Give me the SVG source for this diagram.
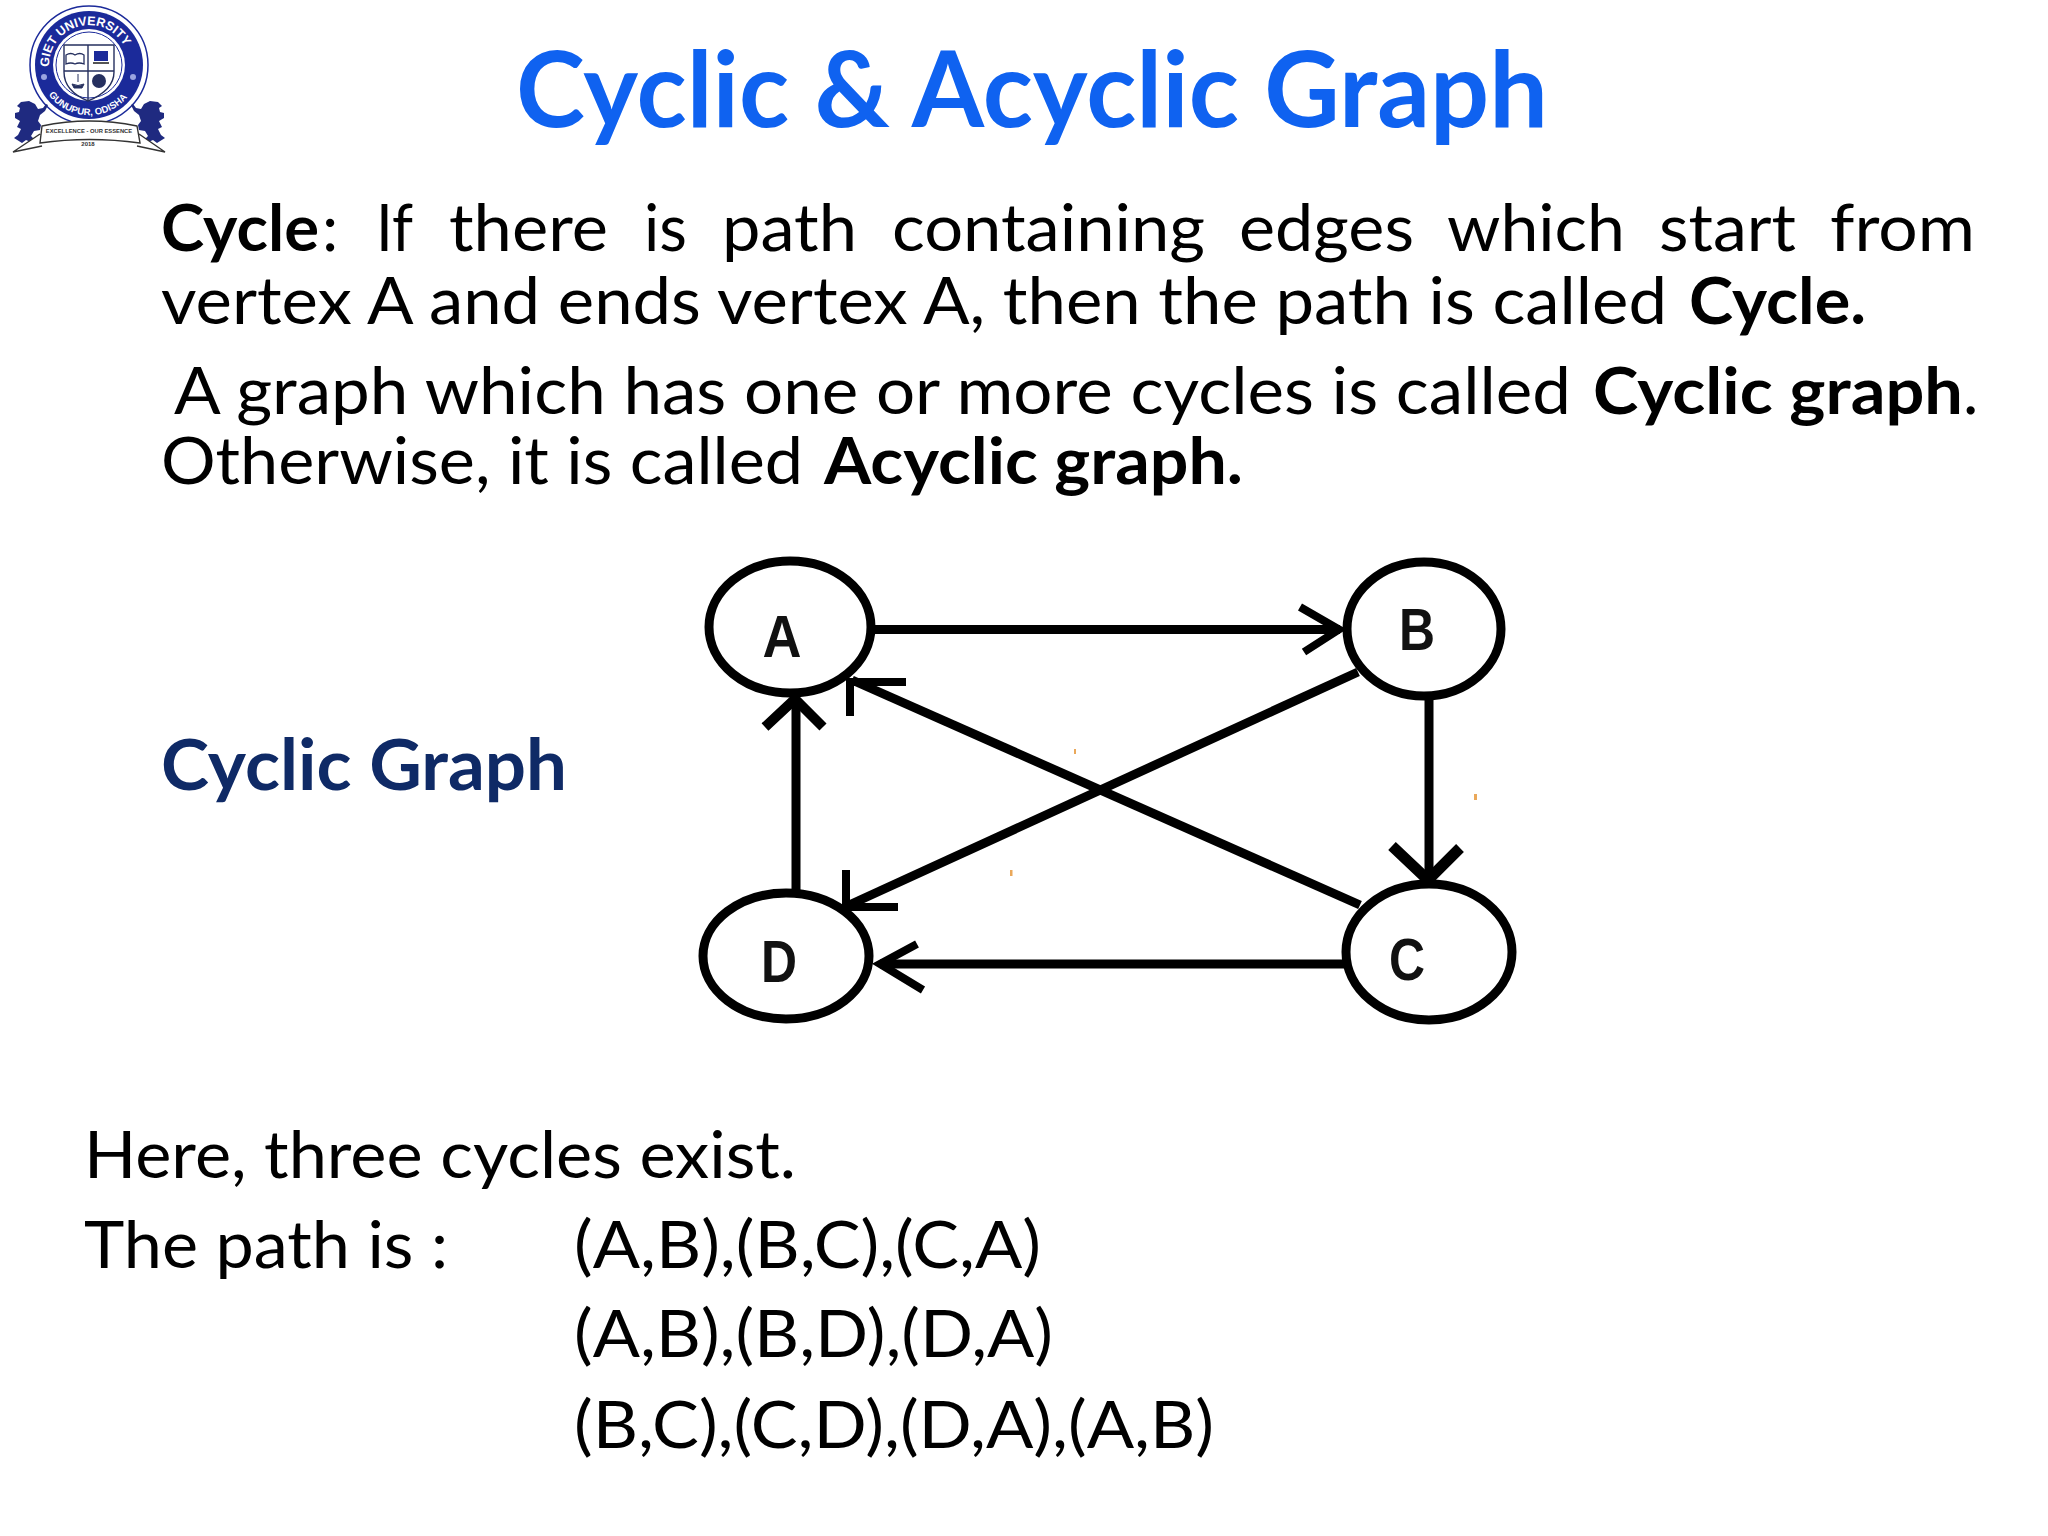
<svg xmlns="http://www.w3.org/2000/svg" width="2048" height="1536" viewBox="0 0 2048 1536">
<style>
text{font-family:"Lato","Liberation Sans",sans-serif;fill:#000}
.b{font-size:65px}
.bb{font-size:65px;font-weight:700}
.l{font-size:65px}
.n{font-family:"Liberation Sans",Arial,sans-serif;font-weight:700;font-size:60px;text-anchor:middle;fill:#111}
.e{fill:none;stroke:#000;stroke-width:9}
.h{fill:none;stroke:#000;stroke-width:8}
.nd{fill:#fff;stroke:#000;stroke-width:9}
.lg{fill:#1b2a9a}
.w{fill:#fff}
.sh{fill:none;stroke:#26305f;stroke-width:1.4}
.s{font-family:"Liberation Sans",sans-serif;font-weight:700}
.sp{fill:#eaa85a}
</style>
<defs>
<path id="lt" d="M50 74A40 40 0 1 1 128 74"/>
<path id="lb" d="M44 87A50 50 0 0 0 134 87"/>
<path id="lion" d="M14 138l4-3 3-6-4-2 3-6-5-3 0-5 4-1 1-4-3-2 4-4 8-1 6 3 3 5 5-1 3-4 2 1-3 6-5 4-2 6 3 4-1 5-6 1-3 5 5 5-3 2-7-3-4 3z"/>
</defs>
<rect width="2048" height="1536" fill="#fff"/>

<g id="logo">
<circle cx="89" cy="65" r="59" fill="#fff" stroke="#1b2a9a" stroke-width="1.500"/>
<circle cx="89" cy="65" r="54" class="lg"/>
<circle cx="89" cy="65" r="36" class="w"/>
<circle cx="89" cy="65" r="33" fill="none" stroke="#1b2a9a" stroke-width="1"/>
<circle cx="44" cy="77" r="3" fill="#9aa3e0"/><circle cx="133" cy="77" r="3" fill="#9aa3e0"/>
<text class="s" font-size="12.500" style="fill:#fff"><textPath href="#lt" startOffset="5%">GIET UNIVERSITY</textPath></text>
<text class="s" font-size="9.500" style="fill:#fff"><textPath href="#lb" startOffset="8%">GUNUPUR, ODISHA</textPath></text>
<path class="sh" d="M64 45H114V72C114 88 100 96 88 101C76 96 64 88 64 72ZM88 45V101M64 71H114"/>
<path d="M66 55q5-3 9 0q5-3 9 0v9q-5-2-9 0q-4-2-9 0z" fill="#fff" stroke="#26305f" stroke-width="1.300"/>
<rect x="94" y="51" width="14" height="10" fill="#1b2a9a"/><rect x="93" y="62" width="16" height="2" fill="#555"/>
<path d="M72 84q6 3 12 0l-2 4h-8zM78 74v8" fill="#26305f" stroke="#26305f"/>
<circle cx="99" cy="81" r="7" fill="#26305f"/>
<use href="#lion" fill="#1f2a80"/>
<use href="#lion" fill="#1f2a80" transform="matrix(-1 0 0 1 179 0)"/>
<path d="M42 126Q89 116 137 126L140 143Q89 136 40 143ZM40 134L13 152 42 146M139 134L165 152 137 146" fill="#fff" stroke="#333" stroke-width="1.400"/>
<text class="s" x="89" y="133" font-size="5.800" text-anchor="middle" style="fill:#333">EXCELLENCE - OUR ESSENCE</text>
<text class="s" x="88" y="146" font-size="6" text-anchor="middle" style="fill:#333">2018</text>
</g>

<text id="title" x="516" y="127" font-size="106" font-weight="700" textLength="1032" lengthAdjust="spacingAndGlyphs" style="fill:#0f62f0">Cyclic &amp; Acyclic Graph</text>

<g id="para">
<text class="bb" x="161" y="251" textLength="158" lengthAdjust="spacingAndGlyphs">Cycle</text>
<text class="b" x="322" y="251">:</text>
<text class="b" x="376" y="251" textLength="37" lengthAdjust="spacingAndGlyphs">If</text>
<text class="b" x="449" y="251" textLength="159" lengthAdjust="spacingAndGlyphs">there</text>
<text class="b" x="644" y="251" textLength="43" lengthAdjust="spacingAndGlyphs">is</text>
<text class="b" x="722" y="251" textLength="135" lengthAdjust="spacingAndGlyphs">path</text>
<text class="b" x="892" y="251" textLength="313" lengthAdjust="spacingAndGlyphs">containing</text>
<text class="b" x="1239" y="251" textLength="175" lengthAdjust="spacingAndGlyphs">edges</text>
<text class="b" x="1447" y="251" textLength="178" lengthAdjust="spacingAndGlyphs">which</text>
<text class="b" x="1659" y="251" textLength="137" lengthAdjust="spacingAndGlyphs">start</text>
<text class="b" x="1830" y="251" textLength="145" lengthAdjust="spacingAndGlyphs">from</text>
<text class="b" x="161" y="324" textLength="1506" lengthAdjust="spacingAndGlyphs">vertex A and ends vertex A, then the path is called</text>
<text class="bb" x="1689" y="324" textLength="177" lengthAdjust="spacingAndGlyphs">Cycle.</text>
<text class="b" x="174" y="414" textLength="1397" lengthAdjust="spacingAndGlyphs">A graph which has one or more cycles is called</text>
<text class="bb" x="1593" y="414" textLength="370" lengthAdjust="spacingAndGlyphs">Cyclic graph</text>
<text class="b" x="1963" y="414">.</text>
<text class="b" x="161" y="484" textLength="642" lengthAdjust="spacingAndGlyphs">Otherwise, it is called</text>
<text class="bb" x="824" y="484" textLength="419" lengthAdjust="spacingAndGlyphs">Acyclic graph.</text>
</g>

<text id="cyclic-label" x="161" y="790" font-size="70" font-weight="700" textLength="406" lengthAdjust="spacingAndGlyphs" style="fill:#0f2a66">Cyclic Graph</text>

<g id="connectors">
<path class="e" d="M870 629.500H1340"/><path class="h" d="M1300 607L1339 629.500 1304 652"/>
<path class="e" d="M1429 696V880"/><path class="h" style="stroke-width:11" d="M1392 846L1428 880 1460 848"/>
<path class="e" d="M1347 964H880"/><path class="h" d="M917 944L880 964 923 990"/>
<path class="e" d="M796 890V700"/><path class="h" style="stroke-width:10" d="M765 727L795 699 823 727"/>
<path class="e" d="M1360 905L852 680"/><path class="h" d="M906 682H850V716"/>
<path class="e" d="M1358 672L847 906"/><path class="h" d="M846 870V907H898"/>
<rect class="sp" x="1010" y="870" width="2.500" height="6"/>
<rect class="sp" x="1074" y="749" width="2" height="5"/>
<rect class="sp" x="1474" y="794" width="3" height="6"/>
</g>

<g id="node-A"><ellipse class="nd" cx="790" cy="627" rx="81" ry="66"/><text class="n" x="782" y="657" textLength="39" lengthAdjust="spacingAndGlyphs">A</text></g>
<g id="node-B"><ellipse class="nd" cx="1424" cy="629" rx="77" ry="67"/><text class="n" x="1417" y="650" textLength="36" lengthAdjust="spacingAndGlyphs">B</text></g>
<g id="node-C"><ellipse class="nd" cx="1429" cy="952" rx="83" ry="68"/><text class="n" x="1407" y="980" textLength="36" lengthAdjust="spacingAndGlyphs">C</text></g>
<g id="node-D"><ellipse class="nd" cx="786" cy="956" rx="83" ry="63"/><text class="n" x="779" y="982" textLength="36" lengthAdjust="spacingAndGlyphs">D</text></g>

<g id="paths">
<text class="l" x="84" y="1178" textLength="712" lengthAdjust="spacingAndGlyphs">Here, three cycles exist.</text>
<text class="l" x="84" y="1268" textLength="364" lengthAdjust="spacingAndGlyphs">The path is :</text>
<text class="l" x="574" y="1268" textLength="467" lengthAdjust="spacingAndGlyphs">(A,B),(B,C),(C,A)</text>
<text class="l" x="574" y="1357" textLength="479" lengthAdjust="spacingAndGlyphs">(A,B),(B,D),(D,A)</text>
<text class="l" x="574" y="1448" textLength="640" lengthAdjust="spacingAndGlyphs">(B,C),(C,D),(D,A),(A,B)</text>
</g>
</svg>
